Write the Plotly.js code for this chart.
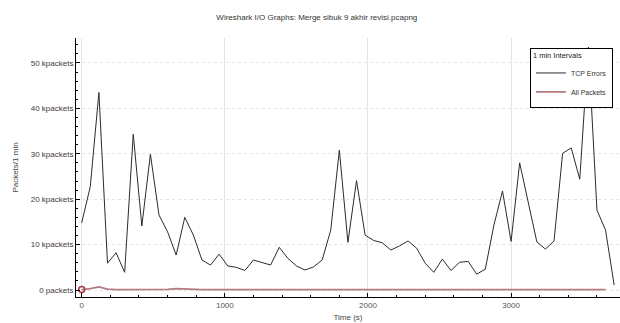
<!DOCTYPE html>
<html>
<head>
<meta charset="utf-8">
<script src="https://cdn.plot.ly/plotly-3.0.1.min.js"></script>
<style>html,body{margin:0;padding:0;background:#fff;}#chart{width:620px;height:323px;}</style>
</head>
<body>
<div id="chart"></div>
<script>
// Time (s), 1 min intervals
const timeTCP = [0,60,120,180,240,300,360,420,480,540,600,660,720,780,840,900,960,1020,1080,1140,1200,1260,1320,1380,1440,1500,1560,1620,1680,1740,1800,1860,1920,1980,2040,2100,2160,2220,2280,2340,2400,2460,2520,2580,2640,2700,2760,2820,2880,2940,3000,3060,3120,3180,3240,3300,3360,3420,3480,3540,3600,3660,3720];
// kpackets per minute (black line)
const tcpErrors = [14.8,22.8,43.5,5.9,8.2,3.9,34.3,14.1,29.9,16.5,12.8,7.7,16.0,12.1,6.6,5.5,7.9,5.3,5.0,4.3,6.6,6.1,5.5,9.4,7.0,5.3,4.4,5.1,6.6,13.2,30.8,10.5,24.1,12.1,10.9,10.4,8.8,9.7,10.8,9.2,5.9,3.9,6.8,4.3,6.1,6.3,3.5,4.6,14.3,21.8,10.7,28.0,19.1,10.6,9.0,10.8,30.1,31.3,24.4,53.5,17.6,13.2,1.1];
const timeAll = [0,60,120,180,240,300,360,420,480,540,600,660,720,780,840,900,960,1020,1080,1140,1200,1260,1320,1380,1440,1500,1560,1620,1680,1740,1800,1860,1920,1980,2040,2100,2160,2220,2280,2340,2400,2460,2520,2580,2640,2700,2760,2820,2880,2940,3000,3060,3120,3180,3240,3300,3360,3420,3480,3540,3600,3660];
// kpackets per minute (red line)
const allPackets = [0.1,0.3,0.7,0.2,0.1,0.1,0.1,0.1,0.1,0.1,0.15,0.3,0.2,0.1,0.1,0.1,0.1,0.1,0.1,0.1,0.1,0.1,0.1,0.1,0.1,0.1,0.1,0.1,0.1,0.1,0.1,0.1,0.1,0.1,0.1,0.1,0.1,0.1,0.1,0.1,0.1,0.1,0.1,0.1,0.1,0.1,0.1,0.1,0.1,0.1,0.1,0.1,0.1,0.1,0.1,0.1,0.1,0.1,0.1,0.1,0.1,0.1];
const seriesNames = ["TCP Errors", "All Packets"];
const yTickVals = [0,10,20,30,40,50];
const yTickText = ["0 packets","10 kpackets","20 kpackets","30 kpackets","40 kpackets","50 kpackets"];
const xTickVals = [0,1000,2000,3000];

const FONT = "Liberation Sans, Arial, sans-serif";
const traces = [
  {x: timeTCP, y: tcpErrors, name: seriesNames[0], type: "scatter", mode: "lines",
   line: {color: "#2b2b2b", width: 1}},
  {x: timeAll, y: allPackets, name: seriesNames[1], type: "scatter", mode: "lines",
   line: {color: "#b47a82", width: 1.8}},
  {x: [timeAll[0]], y: [allPackets[0]], type: "scatter", mode: "markers", showlegend: false,
   marker: {size: 6, color: "rgba(0,0,0,0)", line: {color: "#a83545", width: 1.5}}}
];
const layout = {
  width: 620, height: 323,
  margin: {l: 76, r: 0, t: 38, b: 26},
  paper_bgcolor: "#fff", plot_bgcolor: "#fff",
  font: {family: FONT, size: 8, color: "#444"},
  title: {text: "Wireshark I/O Graphs: Merge sibuk 9 akhir revisi.pcapng",
          font: {family: FONT, size: 8, color: "#333"},
          xref: "container", x: 0.511, xanchor: "center",
          yref: "container", y: 1 - 17/323, yanchor: "middle"},
  showlegend: true,
  legend: {x: 0.987, xanchor: "right", y: 0.9625, yanchor: "top",
           bgcolor: "rgba(255,255,255,1)", bordercolor: "#000", borderwidth: 1,
           font: {family: FONT, size: 7, color: "#333"},
           title: {text: "1 min Intervals", font: {family: FONT, size: 7.5, color: "#222"}},
           tracegroupgap: 0, itemwidth: 30},
  xaxis: {range: [-40, 3761], tickvals: xTickVals, ticks: "inside", ticklen: 4, tickcolor: "#000",
          showline: true, linecolor: "#000", linewidth: 1, zeroline: false,
          showgrid: true, gridcolor: "#e4e4e4", gridwidth: 1,
          minor: {dtick: 200, ticks: "inside", ticklen: 2, tickcolor: "#000", showgrid: false},
          tickfont: {family: FONT, size: 8, color: "#555"},
          title: {text: "Time (s)", font: {family: FONT, size: 8, color: "#444"}, standoff: 5}},
  yaxis: {range: [-1.54, 55.5], tickvals: yTickVals, ticktext: yTickText, ticks: "inside", ticklen: 4, tickcolor: "#000",
          showline: true, linecolor: "#000", linewidth: 1, zeroline: false,
          showgrid: true, gridcolor: "#e4e4e4", gridwidth: 1, griddash: "dot",
          minor: {dtick: 2, ticks: "inside", ticklen: 2, tickcolor: "#000", showgrid: false},
          tickfont: {family: FONT, size: 8, color: "#3a3a3a"},
          title: {text: "Packets/1 min", font: {family: FONT, size: 8, color: "#444"}, standoff: 10}}
};
Plotly.newPlot("chart", traces, layout, {displayModeBar: false, staticPlot: true});
</script>
</body>
</html>
